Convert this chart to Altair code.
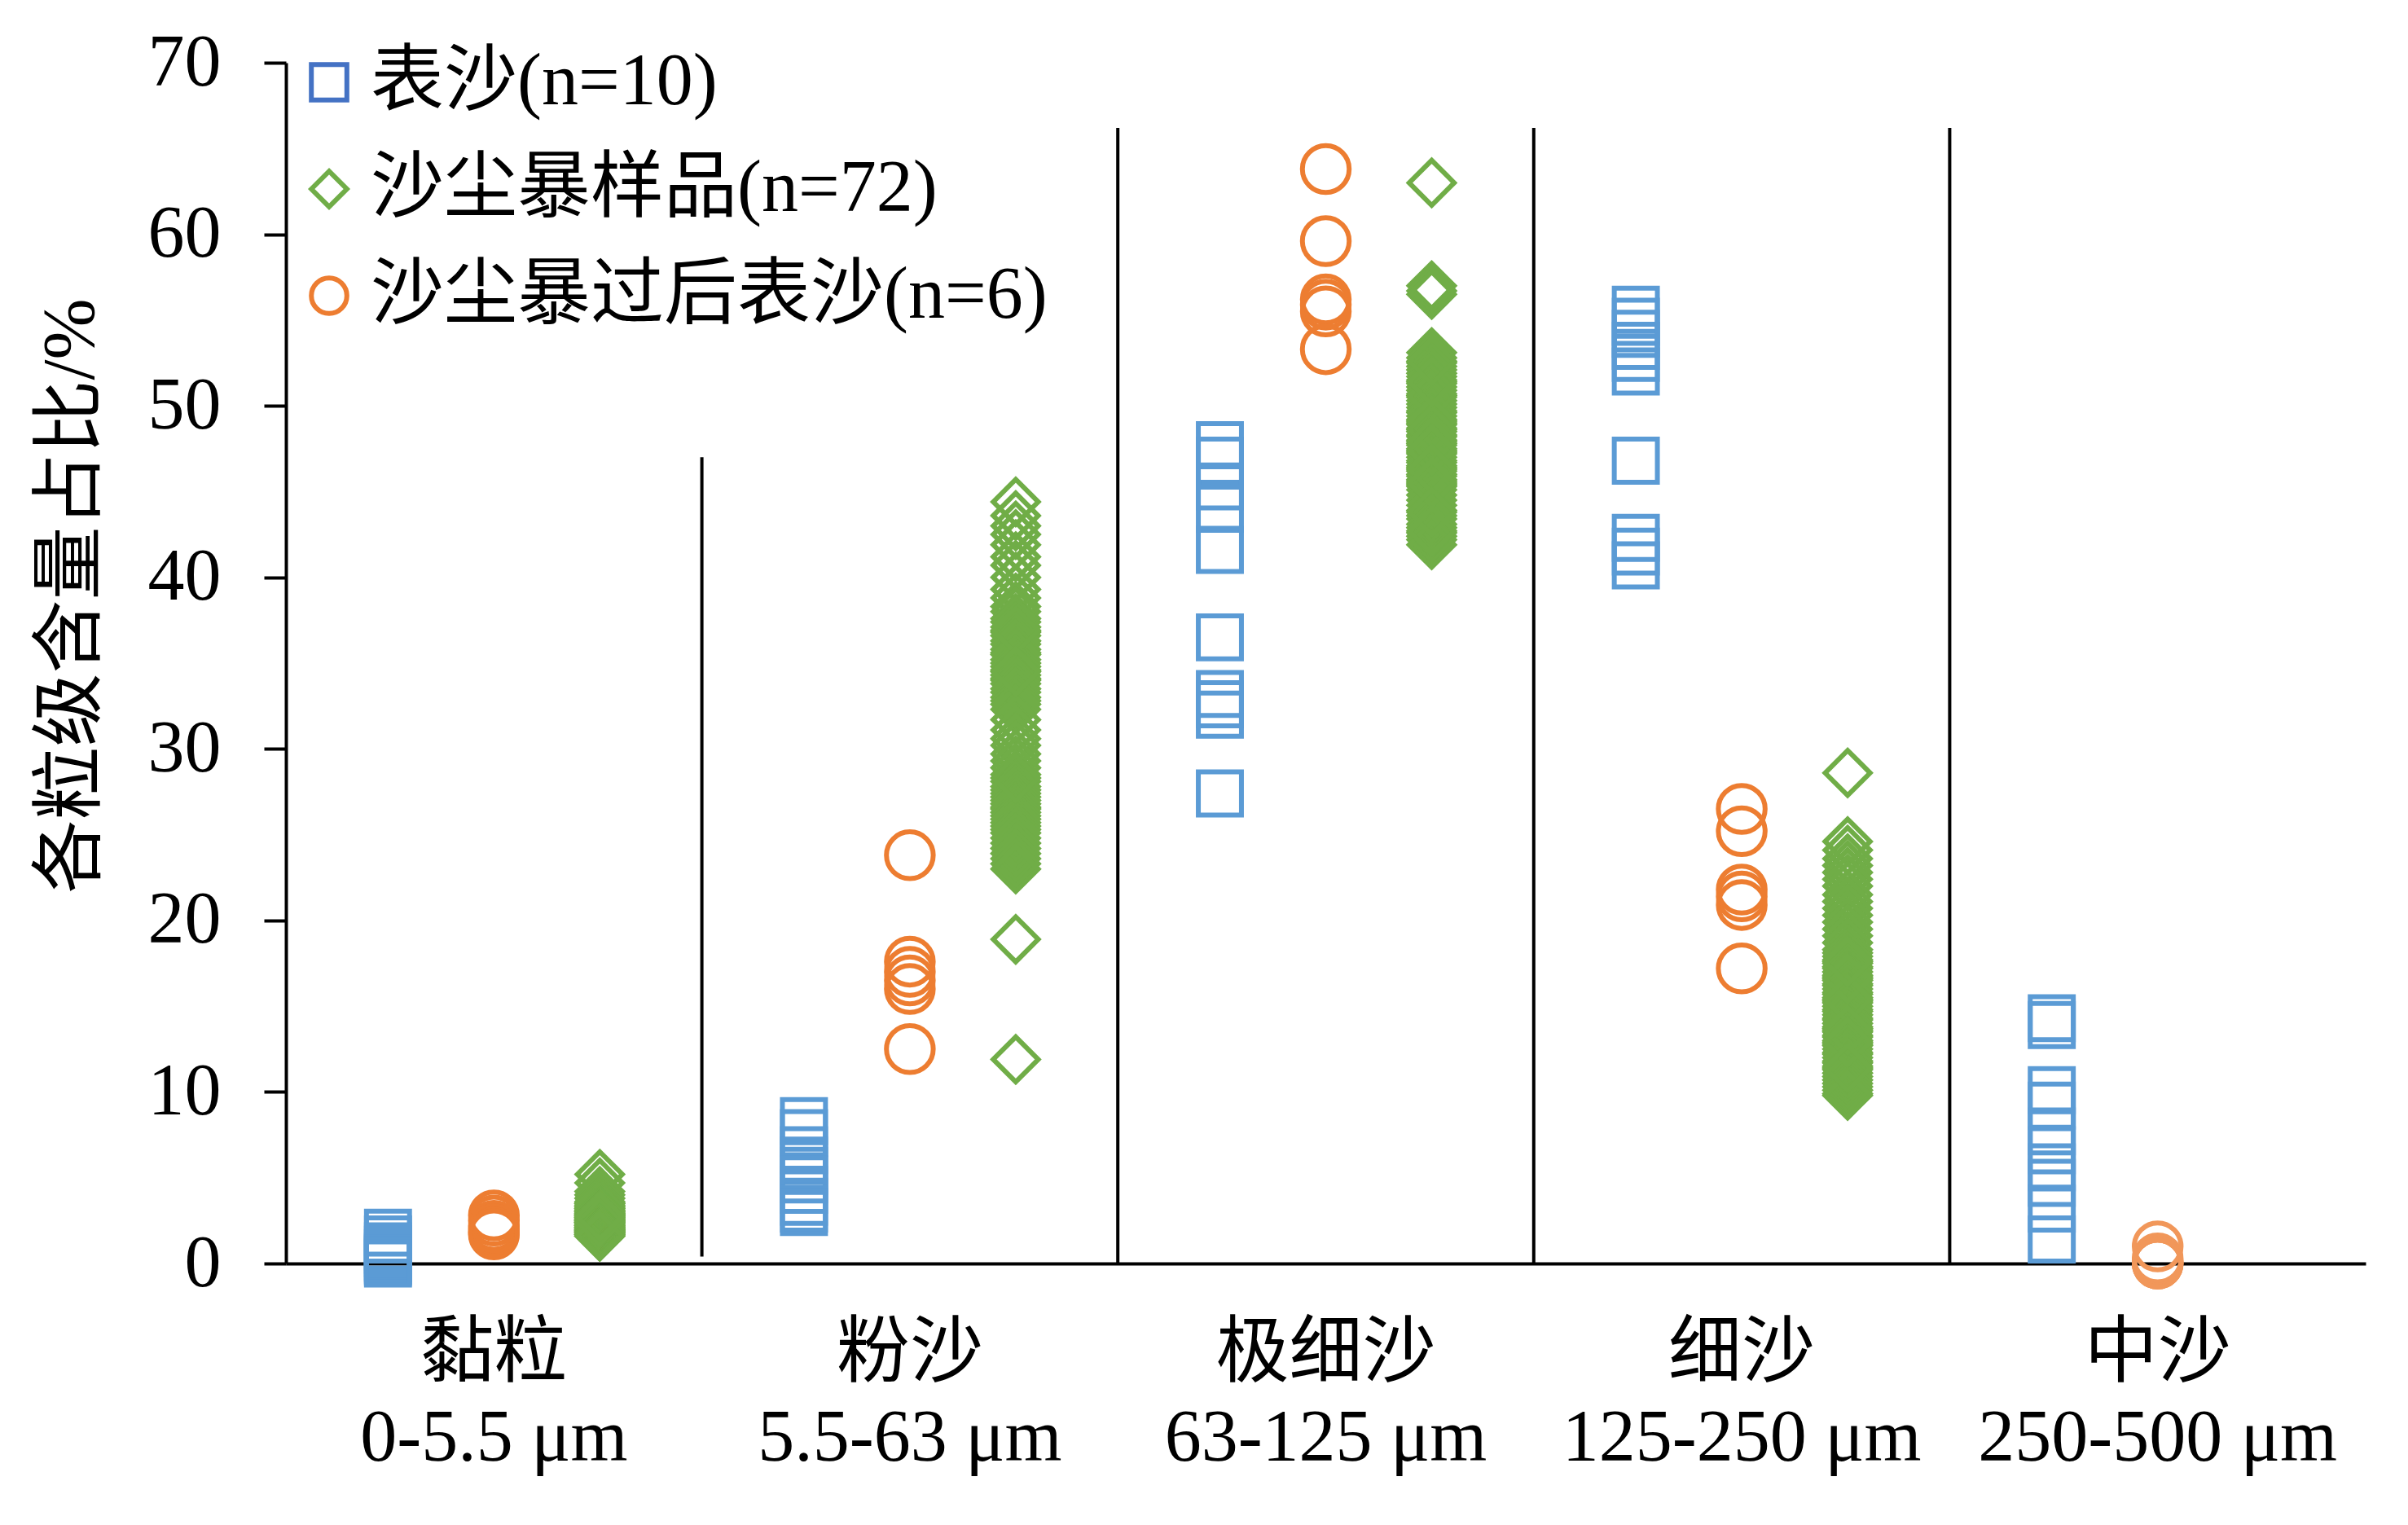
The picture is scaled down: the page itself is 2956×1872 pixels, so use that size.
import altair as alt
import pandas as pd

# ---------------- data ----------------
groups = ["黏粒", "粉沙", "极细沙", "细沙", "中沙"]
ranges = ["0-5.5 μm", "5.5-63 μm", "63-125 μm", "125-250 μm", "250-500 μm"]
series = ["表沙(n=10)", "沙尘暴样品(n=72)", "沙尘暴过后表沙(n=6)"]

# 表沙 (n=10)
surface_clay = [1.8, 1.4, 1.0, 0.8, 0.6, 0.4, 0.3, 0.2, 0.1, 0.0]
surface_silt = [8.3, 7.6, 6.6, 6.0, 5.4, 4.9, 4.3, 3.6, 3.2, 3.0]
surface_vfs = [47.7, 46.8, 45.3, 44.0, 41.6, 36.5, 33.2, 32.6, 32.0, 27.4]
surface_fs = [55.6, 54.9, 54.2, 53.5, 52.8, 52.0, 46.8, 42.3, 41.5, 40.7]
surface_ms = [14.3, 13.9, 10.1, 9.2, 7.7, 6.6, 5.6, 4.7, 3.2, 1.4]

# 沙尘暴过后表沙 (n=6)
after_clay = [2.8, 2.5, 2.2, 2.0, 1.8, 1.7]
after_silt = [23.8, 17.6, 17.0, 16.5, 16.0, 12.5]
after_vfs = [63.8, 59.6, 56.2, 55.9, 55.5, 53.3]
after_fs = [26.5, 25.2, 21.8, 21.4, 20.9, 17.2]
after_ms = [1.0, 0.3, 0.1, 0.0, 0.0, 0.0]

# 沙尘暴样品 (n=72)
storm_clay = [5.2, 4.7, 4.2, 4.0, 3.8, 3.6, 3.5, 3.5, 3.4, 3.3,
              3.3, 3.2, 3.2, 3.1, 3.1, 3.0, 3.0, 3.0, 2.9, 2.9,
              2.9, 2.8, 2.8, 2.8, 2.7, 2.7, 2.7, 2.6, 2.6, 2.6,
              2.6, 2.5, 2.5, 2.5, 2.5, 2.4, 2.4, 2.4, 2.4, 2.3,
              2.3, 2.3, 2.3, 2.2, 2.2, 2.2, 2.2, 2.1, 2.1, 2.1,
              2.1, 2.0, 2.0, 2.0, 2.0, 1.9, 1.9, 1.9, 1.9, 1.8,
              1.8, 1.8, 1.8, 1.7, 1.7, 1.7, 1.7, 1.6, 1.6, 1.6,
              2.45, 2.75]
storm_silt = [44.4, 43.6, 43.0, 42.5, 41.9, 41.2, 40.7, 40.0, 39.3, 38.8,
              38.3, 38.0, 37.6, 37.4, 37.1, 36.8, 36.6, 36.3, 36.1, 35.8,
              35.6, 35.5, 35.2, 35.0, 34.8, 34.6, 34.3, 34.1, 34.0, 33.8,
              33.5, 33.3, 33.0, 32.8, 32.6, 32.3, 31.7, 31.1, 30.6, 30.2,
              29.7, 29.3, 28.9, 28.5, 28.1, 27.8, 27.6, 27.4, 27.2, 27.0,
              26.8, 26.6, 26.5, 26.3, 26.1, 25.9, 25.7, 25.5, 25.3, 25.1,
              24.8, 24.5, 24.2, 23.9, 23.6, 23.3, 23.0, 28.3, 18.9, 11.9,
              36.9, 34.5]
storm_vfs = [63.0, 57.0, 56.7, 56.5, 53.1, 52.8, 52.5, 52.3, 52.1, 51.9,
             51.7, 51.5, 51.3, 51.1, 50.9, 50.7, 50.5, 50.3, 50.1, 49.9,
             49.7, 49.6, 49.4, 49.2, 49.0, 48.9, 48.7, 48.5, 48.3, 48.2,
             48.0, 47.8, 47.7, 47.5, 47.3, 47.2, 47.0, 46.8, 46.7, 46.5,
             46.4, 46.2, 46.0, 45.9, 45.7, 45.6, 45.4, 45.3, 45.1, 44.8,
             44.5, 44.2, 43.9, 43.6, 43.4, 43.1, 42.9, 42.6, 42.4, 42.2,
             41.9, 50.6, 49.1, 48.6, 47.9, 47.4, 46.3, 45.5, 51.4, 52.6,
             43.8, 42.7]
storm_fs = [28.6, 24.6, 24.1, 23.6, 23.2, 22.8, 22.4, 22.0, 21.5, 21.1,
            20.7, 20.3, 19.9, 19.5, 19.1, 18.7, 18.3, 18.1, 17.9, 17.7,
            17.5, 17.3, 17.2, 17.0, 16.8, 16.7, 16.5, 16.3, 16.2, 16.0,
            15.8, 15.7, 15.5, 15.3, 15.2, 15.0, 14.8, 14.7, 14.5, 14.3,
            14.2, 14.0, 13.8, 13.7, 13.5, 13.3, 13.2, 13.0, 12.8, 12.7,
            12.5, 12.3, 12.2, 12.0, 11.8, 11.7, 11.5, 11.3, 11.1, 10.9,
            10.7, 10.5, 10.3, 10.1, 9.9, 9.8, 16.6, 15.4, 13.6, 12.9,
            11.4, 17.6]

# vertical separators between size classes
sep_groups = ["粉沙", "极细沙", "细沙", "中沙"]
sep_top = [47.0, 66.2, 66.2, 66.2]
sep_bottom = [0.4, 0.0, 0.0, 0.0]

# ---------------- build tables ----------------
labels = [g + "\n" + r for g, r in zip(groups, ranges)]
label_of = dict(zip(groups, labels))

by_series = {
    series[0]: [surface_clay, surface_silt, surface_vfs, surface_fs, surface_ms],
    series[1]: [storm_clay, storm_silt, storm_vfs, storm_fs, []],
    series[2]: [after_clay, after_silt, after_vfs, after_fs, after_ms],
}
rows = []
for s, lists in by_series.items():
    for g, vals in zip(groups, lists):
        for v in vals:
            rows.append({"group": g, "label": label_of[g], "series": s, "value": v})
df = pd.DataFrame(rows)

sep_df = pd.DataFrame({
    "label": [label_of[g] for g in sep_groups],
    "top": sep_top,
    "bottom": sep_bottom,
})

# ---------------- styling ----------------
FONT = "Liberation Serif, Noto Sans CJK SC"
FS = 90
W, H = 2553, 1474
legend_colors = ["#4472C4", "#70AD47", "#ED7D31"]
marker_colors = ["#5B9BD5", "#70AD47", "#ED7D31"]
shapes = ["square", "diamond", "circle"]
offset_order = [series[0], series[2], series[1]]
band = W / len(groups)

x_scale = alt.Scale(domain=labels, paddingInner=0, paddingOuter=0)
x_axis = alt.Axis(
    labelExpr="split(datum.label, '\\n')",
    labelAngle=0, ticks=False, grid=False,
    domainColor="black", domainWidth=4,
    labelFont=FONT, labelFontSize=FS, labelColor="black",
    labelPadding=66, labelLineHeight=104, labelLimit=1000,
    labelOverlap=False,
)
y_scale = alt.Scale(domain=[0, 70], nice=False)
y_title = "各粒级含量占比/%"
y_axis = alt.Axis(
    values=[0, 10, 20, 30, 40, 50, 60, 70], grid=False,
    domainColor="black", domainWidth=4,
    tickColor="black", tickWidth=4, tickSize=27,
    labelFont=FONT, labelFontSize=FS, labelColor="black", labelPadding=53,
    titleFont=FONT, titleFontSize=FS, titleFontWeight="normal",
    titleColor="black", titlePadding=48, titleY=654,
)

x_enc = alt.X("label:N", scale=x_scale, axis=x_axis, title=None)
xo_enc = alt.XOffset("series:N",
                     scale=alt.Scale(type="point", domain=offset_order, padding=0,
                                     range=[band / 2 - 130, band / 2 + 130]))
y_enc = alt.Y("value:Q", scale=y_scale, axis=y_axis, title=y_title)

rules = alt.Chart(sep_df).mark_rule(color="black", strokeWidth=4).encode(
    x=alt.X("label:N", scale=x_scale, axis=x_axis, title=None, bandPosition=0),
    y=alt.Y("top:Q", scale=y_scale, axis=y_axis, title=y_title),
    y2="bottom:Q",
)

leg = alt.Legend(
    title=None, orient="none", legendX=8, legendY=-21,
    labelFont=FONT, labelFontSize=FS, labelColor="black", labelLimit=3000,
    symbolSize=1900, symbolStrokeWidth=6, symbolOpacity=1,
    rowPadding=41, labelOffset=6, padding=0,
)

legend_layer = alt.Chart(df).mark_point(filled=False, opacity=1, size=2800, strokeWidth=6).encode(
    x=x_enc, xOffset=xo_enc, y=y_enc,
    color=alt.Color("series:N", scale=alt.Scale(domain=series, range=legend_colors), legend=leg),
    shape=alt.Shape("series:N", scale=alt.Scale(domain=series, range=shapes), legend=leg),
).transform_filter("false")

points = alt.Chart(df).mark_point(filled=False, opacity=1, strokeWidth=6).encode(
    x=x_enc, xOffset=xo_enc, y=y_enc,
    color=alt.condition(
        (alt.datum.group == "中沙") & (alt.datum.series == series[2]),
        alt.value("#F1975A"),
        alt.Color("series:N", scale=alt.Scale(domain=series, range=marker_colors), legend=None),
    ),
    shape=alt.Shape("series:N", scale=alt.Scale(domain=series, range=shapes), legend=None),
    size=alt.Size("series:N", scale=alt.Scale(domain=series, range=[2800, 3300, 2800]), legend=None),
)

chart = alt.layer(rules, legend_layer, points).resolve_scale(
    color="independent", shape="independent"
).properties(
    width=W, height=H,
    padding={"left": 34, "top": 24, "right": 5, "bottom": 5},
    background="white",
).configure_view(strokeWidth=0)

chart.save("out.html", embed_options={"renderer": "svg", "actions": False})
